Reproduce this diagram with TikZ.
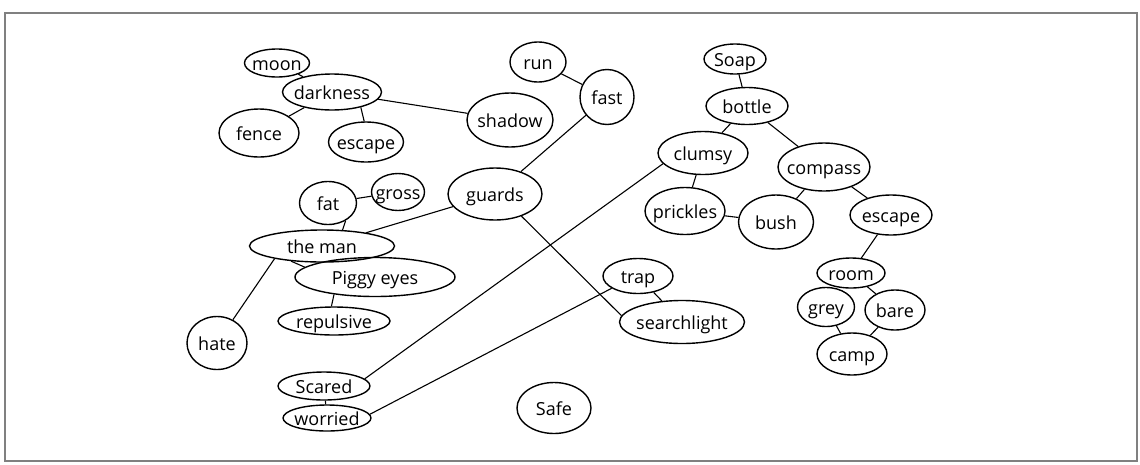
\documentclass[tikz,border=0pt]{standalone}
\usepackage{fontspec}
\setmainfont{Open Sans}
\usetikzlibrary{shapes.geometric}

\begin{document}
\begin{tikzpicture}[x=1pt,y=-1pt,line width=1.1pt,
  word/.style 2 args={draw,ellipse,line width=1.4pt,inner sep=0pt,
    minimum width=#1pt,minimum height=#2pt,font=\fontsize{18}{20}\selectfont,
    text height=15pt,text depth=0pt,
    execute at begin node={\hbox to 0pt\bgroup\hss},
    execute at end node={\hss\egroup}}]
\useasboundingbox (0,0) rectangle (1140,464);
\draw[gray,line width=2pt] (5,13) rectangle (1137,461);

% darkness group, top left.
\node[word={65}{28}] (moon) at (277,63) {moon};
\node[word={99}{36}] (darkness) at (332,92) {darkness};
\node[word={80}{48}] (fence) at (259,133) {fence};
\node[word={75}{40}] (escapeA) at (366,142) {escape};
\node[word={86}{54}] (shadow) at (510,120) {shadow};

\node[word={56}{40}] (run) at (538,62) {run};
\node[word={54}{55}] (fast) at (607,97) {fast};
\node[word={94}{52}] (guards) at (495,194) {guards};

% the man group.
\node[word={57}{43}] (fat) at (328,203) {fat};
\node[word={53}{37}] (gross) at (398,192) {gross};
\node[word={145}{32}] (man) at (322,246) {the man};
\node[word={160}{39}] (piggy) at (375,277) {Piggy eyes};
\node[word={112}{28}] (repulsive) at (334,321) {repulsive};
\node[word={60}{53}] (hate) at (217,343) {hate};
\node[word={92}{28}] (scared) at (324,386) {Scared};
\node[word={88}{26}] (worried) at (327,418) {worried};
\node[word={74}{51}] (safe) at (554,408) {Safe};

\node[word={70}{35}] (trap) at (638,276) {trap};
\node[word={125}{43}] (searchlight) at (682,322) {searchlight};

% soap group, top right.
\node[word={62}{30}] (soap) at (735,59) {Soap};
\node[word={82}{37}] (bottle) at (747,106) {bottle};
\node[word={90}{43}] (clumsy) at (703,153) {clumsy};
\node[word={92}{48}] (compass) at (824,167) {compass};
\node[word={80}{47}] (prickles) at (685,211) {prickles};
\node[word={75}{54}] (bush) at (776,222) {bush};
\node[word={82}{40}] (escapeB) at (891,215) {escape};
\node[word={68}{30}] (room) at (851,273) {room};
\node[word={57}{39}] (grey) at (826,307) {grey};
\node[word={60}{40}] (bare) at (895,310) {bare};
\node[word={70}{42}] (camp) at (852,354) {camp};

\draw (moon)--(darkness);
\draw (darkness)--(fence);
\draw (darkness.332)--(escapeA.95);
\draw (darkness)--(shadow);
\draw (run)--(fast)--(guards);
\draw (guards)--(man);
\draw (guards.320)--(searchlight.174);
\draw (fat)--(gross);
\draw (fat.315)--(man.38);
\draw (man.206)--(piggy.172);
\draw (man.195)--(hate);
\draw (piggy.203)--(repulsive.100);
\draw (scared)--(worried);
\draw (scared.10)--(clumsy.195);
\draw (worried.5)--(trap.205);
\draw (trap)--(searchlight);

\draw (soap)--(bottle);
\draw (bottle)--(clumsy);
\draw (bottle)--(compass);
\draw (clumsy)--(prickles);
\draw (prickles)--(bush);
\draw (compass)--(bush);
\draw (compass)--(escapeB);
\draw (escapeB)--(room);
\draw (room)--(bare);
\draw (grey)--(camp);
\draw (bare)--(camp);

\end{tikzpicture}
\end{document}
